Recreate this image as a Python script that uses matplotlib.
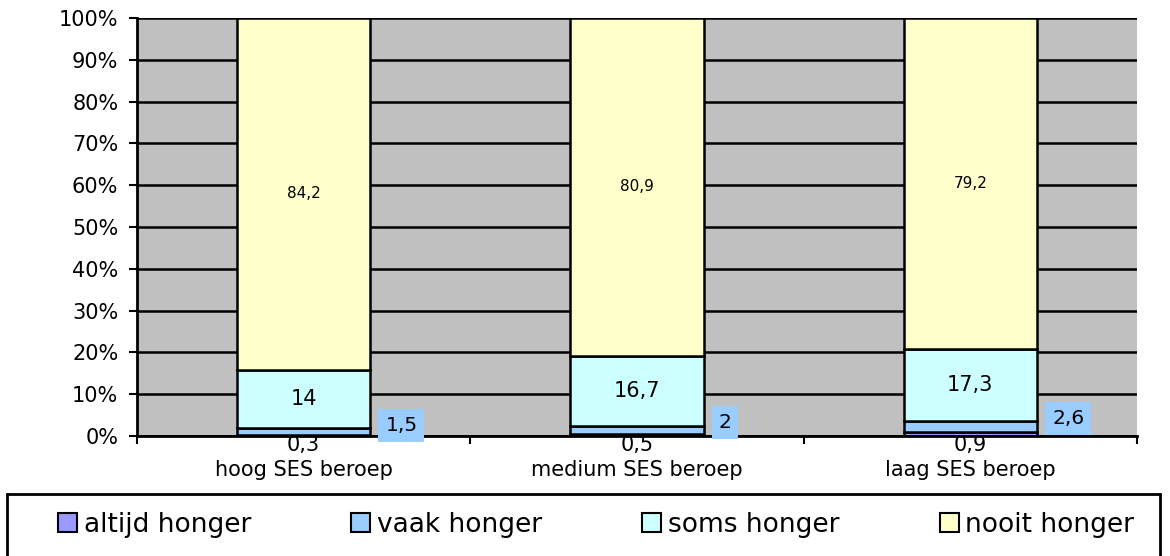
import numpy as np
import matplotlib.pyplot as plt
from matplotlib.patches import Rectangle

categories = ["hoog SES beroep", "medium SES beroep", "laag SES beroep"]
series = ["altijd honger", "vaak honger", "soms honger", "nooit honger"]
altijd = [0.3, 0.5, 0.9]
vaak = [1.5, 2.0, 2.6]
soms = [14.0, 16.7, 17.3]
nooit = [84.2, 80.9, 79.2]
colors = ["#9999FF", "#99CCFF", "#CCFFFF", "#FFFFCC"]

plt.rcParams['font.family'] = ['DejaVu Sans']


def nl(v):
    return f"{v:g}".replace(".", ",")


data = np.array([altijd, vaak, soms, nooit])
pct = data / data.sum(axis=0) * 100  # 100% stacked

fig = plt.figure(figsize=(11.7, 5.56), dpi=100)
ax = fig.add_axes([137/1170, 1 - 436/556, 1000/1170, 418/556])
ax.set_facecolor("#C0C0C0")

x = np.arange(len(categories))
bottom = np.zeros(len(categories))
for i, name in enumerate(series):
    ax.bar(x, pct[i], 0.4, bottom=bottom, color=colors[i], edgecolor="black",
           linewidth=1.8, label=name, zorder=3)
    bottom += pct[i]

# data labels
for j in range(len(categories)):
    ax.text(x[j], -2.2, nl(altijd[j]), ha="center", va="center", fontsize=15)
    ax.text(x[j] + 0.245, pct[0, j] + pct[1, j] + 0.75, nl(vaak[j]),
            ha="left", va="center", fontsize=14.5, zorder=5,
            bbox=dict(facecolor="#99CCFF", edgecolor="none", pad=5))
    ax.text(x[j], pct[0, j] + pct[1, j] + pct[2, j] / 2, nl(soms[j]),
            ha="center", va="center", fontsize=15, zorder=5)
    ax.text(x[j], pct[:3, j].sum() + pct[3, j] / 2, nl(nooit[j]),
            ha="center", va="center", fontsize=11, zorder=5)

ax.set_xlim(-0.5, 2.5)
ax.set_ylim(0, 100)
ax.set_yticks(np.arange(0, 101, 10))
ax.set_yticklabels([f"{v}%" for v in range(0, 101, 10)], fontsize=15)
ax.set_xticks(x)
ax.set_xticklabels(categories, fontsize=15)
ax.tick_params(axis="x", length=0, pad=17)
ax.set_xticks([-0.5, 0.5, 1.5, 2.5], minor=True)
ax.tick_params(axis="x", which="minor", length=6, width=1.5, direction="out")
ax.tick_params(axis="y", length=6, width=1.5, direction="out", pad=7.5)
ax.yaxis.grid(True, color="black", linewidth=1.8, zorder=1)
ax.set_axisbelow(True)
for s in ["top", "right"]:
    ax.spines[s].set_visible(False)
for s in ["left", "bottom"]:
    ax.spines[s].set_linewidth(2)
    ax.spines[s].set_zorder(4)

# legend box
fig.patches.append(Rectangle((7/1170, -0.05), 1153/1170, 0.05 + (556 - 494)/556,
                             transform=fig.transFigure, facecolor="white",
                             edgecolor="black", linewidth=2, clip_on=False))
handles, labels = ax.get_legend_handles_labels()
leg = fig.legend(handles, labels, loc="center left", bbox_to_anchor=(58/1170, 1 - 525/556),
                 ncol=4, frameon=False, fontsize=19, handlelength=0.72, handleheight=0.72,
                 handletextpad=0.25, columnspacing=3.8, borderpad=0, borderaxespad=0)
for h in leg.legend_handles:
    h.set_linewidth(1.5)

fig.savefig("out.png", dpi=100)
